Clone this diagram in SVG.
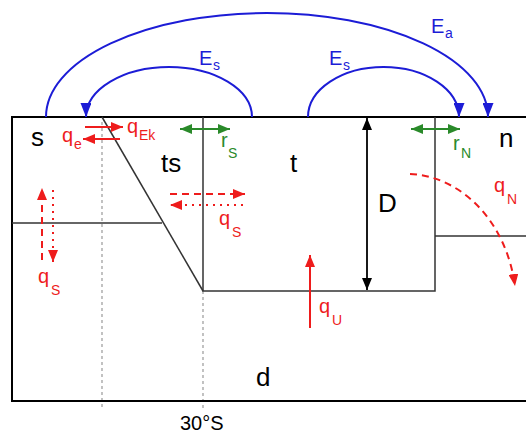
<svg xmlns="http://www.w3.org/2000/svg" width="526" height="435" viewBox="0 0 526 435">
<style>
.frame{fill:none;stroke:#000;stroke-width:2}
.wall{fill:none;stroke:#333;stroke-width:1.5}
.guide{fill:none;stroke:#999;stroke-width:1.2;stroke-dasharray:3,3}
.lbl{font-family:"Liberation Sans",Arial,sans-serif;font-size:26px;fill:#000}
.sym{font-family:"Liberation Sans",Arial,sans-serif;font-size:20px}
.sub{font-size:14px}
.red{fill:#ee1c1c}
.blue{fill:#1c1cd6}
.green{fill:#2a8a2a}
.ared{fill:none;stroke:#ee1c1c;stroke-width:2}
.ablue{fill:none;stroke:#1c1cd6;stroke-width:2}
.agreen{fill:none;stroke:#2a8a2a;stroke-width:2}
.ablk{fill:none;stroke:#000;stroke-width:1.8}
</style>
<defs>
<marker id="hr" markerUnits="userSpaceOnUse" markerWidth="13" markerHeight="10" refX="12" refY="5" orient="auto-start-reverse"><path d="M0,0 L12,5 L0,10 z" fill="#ee1c1c"/></marker>
<marker id="hb" markerUnits="userSpaceOnUse" markerWidth="15" markerHeight="11" refX="14" refY="5.5" orient="auto-start-reverse"><path d="M0,0 L14,5.5 L0,11 z" fill="#1c1cd6"/></marker>
<marker id="hg" markerUnits="userSpaceOnUse" markerWidth="13" markerHeight="10" refX="12" refY="5" orient="auto-start-reverse"><path d="M0,0 L12,5 L0,10 z" fill="#2a8a2a"/></marker>
<marker id="hk" markerUnits="userSpaceOnUse" markerWidth="13" markerHeight="10" refX="12" refY="5" orient="auto-start-reverse"><path d="M0,0 L12,5 L0,10 z" fill="#000"/></marker>
</defs>

<g id="ocean-frame">
<path class="guide" d="M102,122 V408"/>
<path class="guide" d="M203,291 V410"/>
<path class="frame" d="M526,117 H12 V401 H526"/>
<path class="wall" d="M12,223 H162"/>
<path class="wall" d="M102,117 L203,291"/>
<path class="wall" d="M203,117 V291 H435 V117"/>
<path class="wall" d="M435,236 H526"/>
</g>

<g id="box-s"><text class="lbl" x="31" y="146">s</text></g>
<g id="box-ts"><text class="lbl" x="161" y="172">ts</text></g>
<g id="box-t"><text class="lbl" x="290" y="172">t</text></g>
<g id="box-n"><text class="lbl" x="499" y="147">n</text></g>
<g id="box-d"><text class="lbl" x="256" y="386">d</text></g>
<g id="lat-30S"><text class="lbl" x="180" y="430" style="font-size:20px">30°S</text></g>

<g id="connectors">
<path class="ablue" marker-end="url(#hb)" d="M46,117 A221,104 0 0 1 488,117"/>
<path class="ablue" marker-end="url(#hb)" d="M252,117 A83,50 0 0 0 86,117"/>
<path class="ablue" marker-end="url(#hb)" d="M308,117 A75.5,50 0 0 1 459,117"/>
<path class="ablk" marker-start="url(#hk)" marker-end="url(#hk)" d="M367,118 V290"/>
<path class="agreen" marker-start="url(#hg)" marker-end="url(#hg)" d="M180,129 H230"/>
<path class="agreen" marker-start="url(#hg)" marker-end="url(#hg)" d="M411,129 H460"/>
<path class="ared" marker-end="url(#hr)" d="M85,127 H123"/>
<path class="ared" marker-end="url(#hr)" d="M120,139 H83"/>
<path class="ared" marker-end="url(#hr)" stroke-dasharray="7,5" d="M170,194 H245"/>
<path class="ared" marker-end="url(#hr)" stroke-dasharray="2,5" d="M243,205 H170"/>
<path class="ared" marker-end="url(#hr)" stroke-dasharray="7,5" d="M42,260 V188"/>
<path class="ared" marker-end="url(#hr)" stroke-dasharray="2,5" d="M53,190 V262"/>
<path class="ared" marker-end="url(#hr)" d="M310,328 V255"/>
<path class="ared" marker-end="url(#hr)" stroke-dasharray="7,5" d="M410,174 C460,176 506,220 515,286"/>
</g>

<g id="labels">
<text class="sym blue" x="431" y="33">E<tspan class="sub" x="445" y="38">a</tspan></text>
<text class="sym blue" x="199" y="65">E<tspan class="sub" x="213" y="70">s</tspan></text>
<text class="sym blue" x="329" y="65">E<tspan class="sub" x="343" y="70">s</tspan></text>
<text class="sym red" x="62" y="142">q<tspan class="sub" x="74" y="149">e</tspan></text>
<text class="sym red" x="127" y="133">q<tspan class="sub" x="139" y="140">Ek</tspan></text>
<text class="sym green" x="221" y="147">r<tspan class="sub" x="228" y="158">S</tspan></text>
<text class="sym green" x="453" y="150">r<tspan class="sub" x="461" y="158">N</tspan></text>
<text class="sym red" x="219" y="225">q<tspan class="sub" x="232" y="237">S</tspan></text>
<text class="sym red" x="38" y="283">q<tspan class="sub" x="51" y="295">S</tspan></text>
<text class="sym red" x="319" y="313">q<tspan class="sub" x="332" y="325">U</tspan></text>
<text class="sym red" x="494" y="192">q<tspan class="sub" x="507" y="204">N</tspan></text>
<text class="lbl" x="378" y="212">D</text>
</g>
</svg>
